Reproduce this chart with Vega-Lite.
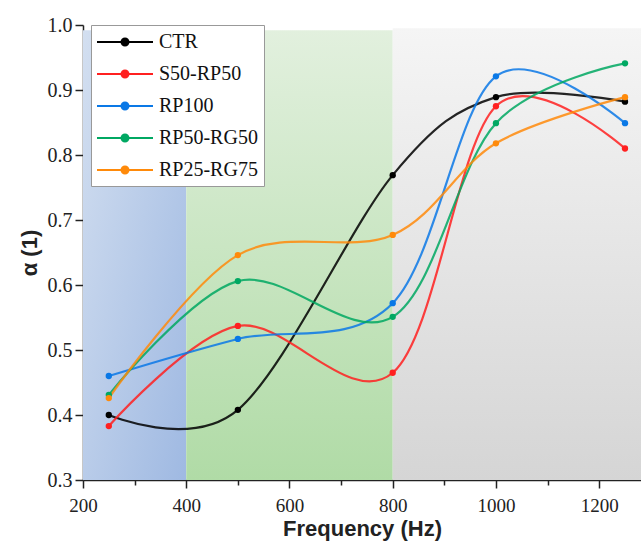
{
  "$schema": "https://vega.github.io/schema/vega-lite/v6.json",
  "autosize": {"type": "none"},
  "width": 558,
  "height": 455,
  "padding": {"left": 83, "top": 25, "right": 0, "bottom": 64},
  "background": "white",
  "config": {
    "view": {"stroke": null},
    "font": "Liberation Serif",
    "axis": {"labelFont": "Liberation Serif", "titleFont": "Liberation Serif", "labelFontSize": 19, "labelColor": "#222", "domainColor": "#222", "tickColor": "#222", "domainWidth": 1.5, "tickWidth": 1.5, "grid": false, "titleFontSize": 22, "titleFontWeight": "bold", "titleColor": "#222"}
  },
  "datasets": {
    "bands": [
      {"band": "blue", "x0": 200, "x1": 400, "bottom": 0.3, "top": 0.992},
      {"band": "green", "x0": 400, "x1": 800, "bottom": 0.3, "top": 0.992},
      {"band": "gray", "x0": 800, "x1": 1281, "bottom": 0.3, "top": 0.995}
    ],
    "series": [
      {"f": 250, "a": 0.400, "s": "CTR"},
      {"f": 500, "a": 0.408, "s": "CTR"},
      {"f": 800, "a": 0.769, "s": "CTR"},
      {"f": 1000, "a": 0.889, "s": "CTR"},
      {"f": 1250, "a": 0.882, "s": "CTR"},
      {"f": 250, "a": 0.383, "s": "S50-RP50"},
      {"f": 500, "a": 0.537, "s": "S50-RP50"},
      {"f": 800, "a": 0.465, "s": "S50-RP50"},
      {"f": 1000, "a": 0.875, "s": "S50-RP50"},
      {"f": 1250, "a": 0.810, "s": "S50-RP50"},
      {"f": 250, "a": 0.460, "s": "RP100"},
      {"f": 500, "a": 0.517, "s": "RP100"},
      {"f": 800, "a": 0.572, "s": "RP100"},
      {"f": 1000, "a": 0.921, "s": "RP100"},
      {"f": 1250, "a": 0.849, "s": "RP100"},
      {"f": 250, "a": 0.431, "s": "RP50-RG50"},
      {"f": 500, "a": 0.606, "s": "RP50-RG50"},
      {"f": 800, "a": 0.551, "s": "RP50-RG50"},
      {"f": 1000, "a": 0.849, "s": "RP50-RG50"},
      {"f": 1250, "a": 0.941, "s": "RP50-RG50"},
      {"f": 250, "a": 0.426, "s": "RP25-RG75"},
      {"f": 500, "a": 0.646, "s": "RP25-RG75"},
      {"f": 800, "a": 0.677, "s": "RP25-RG75"},
      {"f": 1000, "a": 0.818, "s": "RP25-RG75"},
      {"f": 1250, "a": 0.889, "s": "RP25-RG75"}
    ]
  },
  "layer": [
    {
      "data": {"name": "bands"},
      "transform": [{"filter": "datum.band == 'blue'"}],
      "mark": {"type": "rect", "fill": {"gradient": "linear", "x1": 0, "y1": 0, "x2": 1, "y2": 1, "stops": [{"offset": 0, "color": "#d3dff0"}, {"offset": 1, "color": "#9fb9e2"}]}},
      "encoding": {
        "x": {"field": "x0", "type": "quantitative", "scale": {"domain": [200, 1281], "nice": false, "zero": false}},
        "x2": {"field": "x1"},
        "y": {"field": "bottom", "type": "quantitative", "scale": {"domain": [0.3, 1.0], "nice": false, "zero": false}},
        "y2": {"field": "top"}
      }
    },
    {
      "data": {"name": "bands"},
      "transform": [{"filter": "datum.band == 'green'"}],
      "mark": {"type": "rect", "fill": {"gradient": "linear", "x1": 0, "y1": 0, "x2": 0, "y2": 1, "stops": [{"offset": 0, "color": "#e2f0de"}, {"offset": 1, "color": "#b0dba6"}]}},
      "encoding": {
        "x": {"field": "x0", "type": "quantitative", "scale": {"domain": [200, 1281], "nice": false, "zero": false}},
        "x2": {"field": "x1"},
        "y": {"field": "bottom", "type": "quantitative", "scale": {"domain": [0.3, 1.0], "nice": false, "zero": false}},
        "y2": {"field": "top"}
      }
    },
    {
      "data": {"name": "bands"},
      "transform": [{"filter": "datum.band == 'gray'"}],
      "mark": {"type": "rect", "fill": {"gradient": "linear", "x1": 0, "y1": 0, "x2": 0, "y2": 1, "stops": [{"offset": 0, "color": "#f5f5f5"}, {"offset": 1, "color": "#d5d5d5"}]}},
      "encoding": {
        "x": {"field": "x0", "type": "quantitative", "scale": {"domain": [200, 1281], "nice": false, "zero": false}},
        "x2": {"field": "x1"},
        "y": {"field": "bottom", "type": "quantitative", "scale": {"domain": [0.3, 1.0], "nice": false, "zero": false}},
        "y2": {"field": "top"}
      }
    },
    {
      "data": {"name": "series"},
      "mark": {"type": "line", "interpolate": "cardinal", "tension": 0, "strokeWidth": 2.2, "strokeOpacity": 0.85, "clip": true},
      "encoding": {
        "x": {"field": "f", "type": "quantitative", "scale": {"domain": [200, 1281], "nice": false, "zero": false},
          "axis": {"title": "Frequency (Hz)", "values": [200, 300, 400, 500, 600, 700, 800, 900, 1000, 1100, 1200], "labelExpr": "datum.value % 200 == 0 ? datum.label : ''", "format": "d", "labelFlush": false, "tickSize": {"condition": {"test": "datum.value % 200 == 0", "value": 8}, "value": 5}, "labelPadding": 8, "titlePadding": 3, "titleFont": "Liberation Sans"}},
        "y": {"field": "a", "type": "quantitative", "scale": {"domain": [0.3, 1.0], "nice": false, "zero": false},
          "axis": {"title": "α (1)", "values": [0.3, 0.35, 0.4, 0.45, 0.5, 0.55, 0.6, 0.65, 0.7, 0.75, 0.8, 0.85, 0.9, 0.95, 1.0], "labelExpr": "round(datum.value*100) % 10 == 0 ? format(datum.value, '.1f') : ''", "labelFlush": false, "labelFontSize": 20, "tickSize": {"condition": {"test": "round(datum.value*100) % 10 == 0", "value": 8}, "value": 5}, "labelPadding": 3, "titlePadding": 6, "titleFont": "Liberation Sans"}},
        "color": {"field": "s", "type": "nominal",
          "scale": {"domain": ["CTR", "S50-RP50", "RP100", "RP50-RG50", "RP25-RG75"], "range": ["#000000", "#ff2020", "#0a78e6", "#00a862", "#ff8a0a"]},
          "legend": {"title": null, "orient": "none", "legendX": 8, "legendY": 0, "direction": "vertical",
            "symbolType": "M-2.8,0H2.8M-0.35,0A0.35,0.35 0 1,1 0.35,0A0.35,0.35 0 1,1 -0.35,0Z", "symbolSize": 400, "symbolStrokeWidth": 2, "symbolOffset": 17,
            "labelFont": "Liberation Serif", "labelFontSize": 20, "labelColor": "#111", "labelOffset": 23,
            "rowPadding": 11, "padding": 6, "strokeColor": "#999", "fillColor": "white"}}
      }
    },
    {
      "data": {"name": "series"},
      "mark": {"type": "point", "filled": true, "size": 40, "opacity": 1},
      "encoding": {
        "x": {"field": "f", "type": "quantitative"},
        "y": {"field": "a", "type": "quantitative"},
        "color": {"field": "s", "type": "nominal", "legend": null}
      }
    }
  ]
}
